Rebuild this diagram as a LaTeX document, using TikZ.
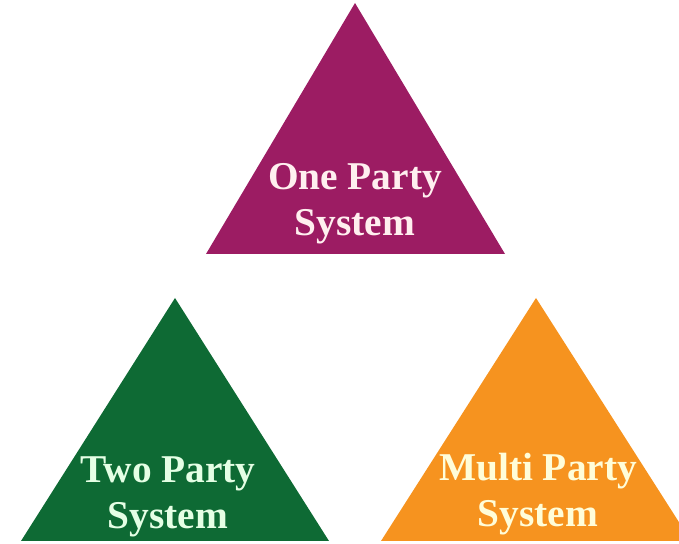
\documentclass[tikz,border=0pt]{standalone}
\usepackage{fontspec}
\setmainfont{Liberation Serif}
\usetikzlibrary{calc}

\definecolor{onecol}{HTML}{9C1C63}
\definecolor{twocol}{HTML}{0E6A34}
\definecolor{multicol}{HTML}{F6931F}

\begin{document}
\begin{tikzpicture}[x=0.025cm, y=-0.025cm,
    label/.style={align=center, font=\fontsize{28}{32.5}\selectfont\bfseries}]
  \useasboundingbox (0,0) rectangle (679,544);
  \clip (0,0) rectangle (679,544);
  %--- One party ---
  \fill[onecol] (355,3) -- (505,254) -- (206,254) -- cycle;
  \node[label, text=pink!25] (one) at (355,204) {One Party\\System};
  %--- Two party ---
  \fill[twocol] (175,298) -- (329,541) -- (21,541) -- cycle;
  \node[label, text=green!10] (two) at (168,497) {Two Party\\System};
  %--- Multi party ---
  \fill[multicol] (536,298) -- (691,541) -- (381,541) -- cycle;
  \node[label, text=yellow!15] (multi) at (538,494) {Multi Party\\System};
\end{tikzpicture}
\end{document}
